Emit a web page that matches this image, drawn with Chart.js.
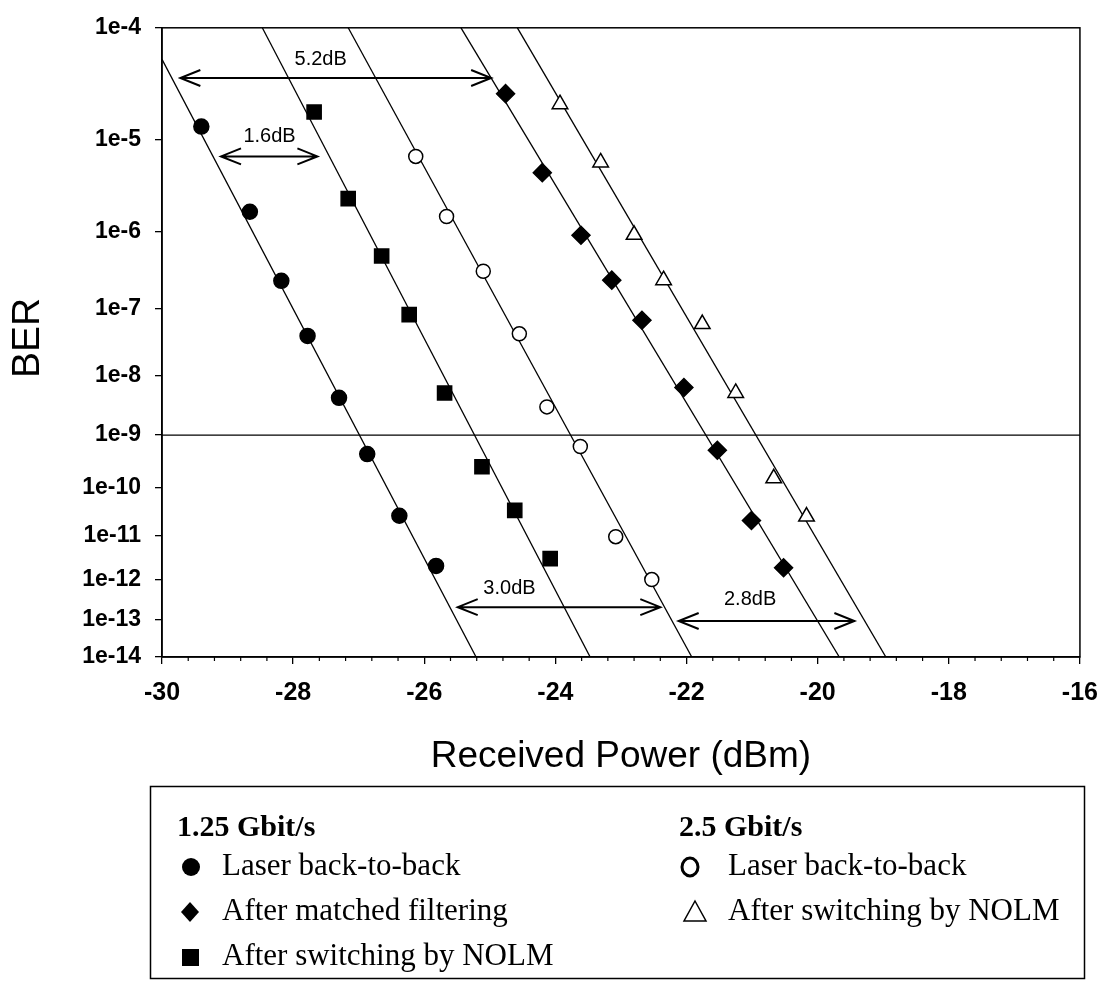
<!DOCTYPE html>
<html>
<head>
<meta charset="utf-8">
<script src="https://cdn.jsdelivr.net/npm/chart.js@4.4.1/dist/chart.umd.min.js"></script>
<style>
  html, body { margin: 0; padding: 0; background: #fff; }
  #wrap { width: 1112px; height: 981px; }
</style>
</head>
<body>
<div id="wrap"><canvas id="berChart" width="1112" height="981"></canvas></div>
<script>
// measured points: received power (dBm) and BER
const b2b125Power = [-29.40, -28.66, -28.18, -27.78, -27.30, -26.87, -26.38, -25.82];
const b2b125Ber = [1.35e-5, 1.7e-6, 2.4e-7, 4.1e-8, 4.4e-9, 4.5e-10, 2.7e-11, 2.1e-12];
const matched125Power = [-24.76, -24.20, -23.61, -23.14, -22.68, -22.04, -21.53, -21.01, -20.52];
const matched125Ber = [2.75e-5, 4.6e-6, 9.0e-7, 2.45e-7, 6.9e-8, 6.5e-9, 5.3e-10, 2.15e-11, 1.9e-12];
const nolm125Power = [-27.68, -27.16, -26.65, -26.23, -25.69, -25.12, -24.62, -24.08];
const nolm125Ber = [1.86e-5, 2.4e-6, 5.0e-7, 8.3e-8, 5.3e-9, 2.6e-10, 3.5e-11, 3.1e-12];
const b2b25Power = [-26.13, -25.66, -25.10, -24.55, -24.13, -23.62, -23.08, -22.53];
const b2b25Ber = [6.8e-6, 1.5e-6, 3.2e-7, 4.4e-8, 3.1e-9, 6.2e-10, 9.6e-12, 1.0e-12];
const nolm25Power = [-23.93, -23.31, -22.80, -22.35, -21.76, -21.25, -20.67, -20.17];
const nolm25Ber = [2.2e-5, 5.9e-6, 9.1e-7, 2.45e-7, 6.1e-8, 5.3e-9, 1.55e-10, 2.6e-11];

// fitted straight lines (start / end of each)
const fitStartPower = [-30.0, -28.47, -27.16, -25.44, -24.58];
const fitStartBer = [5.5e-5, 1e-4, 1e-4, 1e-4, 1e-4];
const fitEndPower = [-25.21, -23.47, -21.92, -19.67, -18.96];
const fitEndBer = [1e-14, 1e-14, 1e-14, 1e-14, 1e-14];
const thresholdBer = 1e-9;

// penalty arrows
const arrowFrom = [-29.72, -29.10, -25.49, -22.12];
const arrowTo = [-24.98, -27.63, -22.40, -19.44];
const arrowBer = [3.8e-5, 6.8e-6, 2.1e-13, 9.3e-14];
const arrowText = ['5.2dB', '1.6dB', '3.0dB', '2.8dB'];
const arrowTextPower = [-27.58, -28.36, -24.70, -21.03];
const arrowTextBer = [5.5e-5, 1.08e-5, 6.2e-13, 3.2e-13];

// axes
const powerTicks = [-30, -28, -26, -24, -22, -20, -18, -16];
const berTickExps = [4, 5, 6, 7, 8, 9, 10, 11, 12, 13, 14];

// legend
const legendHeads = ['1.25 Gbit/s', '2.5 Gbit/s'];
const legendLeft = ['Laser back-to-back', 'After matched filtering', 'After switching by NOLM'];
const legendRight = ['Laser back-to-back', 'After switching by NOLM'];

// BER axis: log10(-log10(BER))
const toY = ber => Math.log10(-Math.log10(ber));
const pts = (xs, ys) => xs.map((x, i) => ({ x: x, y: toY(ys[i]) }));

const SANS = 'Liberation Sans, Arial, sans-serif';
const SERIF = 'Liberation Serif, Times New Roman, serif';

function markerSet(label, xs, ys, style, radius, fill) {
    return {
        label: label,
        data: pts(xs, ys),
        pointStyle: style,
        pointRadius: radius,
        pointBackgroundColor: fill,
        pointBorderColor: '#000',
        pointBorderWidth: 1.5,
        showLine: false,
        order: 1
    };
}

const datasets = [
    markerSet('1.25 Gbit/s Laser back-to-back', b2b125Power, b2b125Ber, 'circle', 7.5, '#000'),
    markerSet('1.25 Gbit/s After matched filtering', matched125Power, matched125Ber, 'rectRot', 9, '#000'),
    markerSet('1.25 Gbit/s After switching by NOLM', nolm125Power, nolm125Ber, 'rect', 10, '#000'),
    markerSet('2.5 Gbit/s Laser back-to-back', b2b25Power, b2b25Ber, 'circle', 7, '#fff'),
    markerSet('2.5 Gbit/s After switching by NOLM', nolm25Power, nolm25Ber, 'triangle', 9, '#fff')
];

fitStartPower.forEach(function (p, i) {
    datasets.push({
        label: 'fit ' + i,
        data: [{ x: p, y: toY(fitStartBer[i]) }, { x: fitEndPower[i], y: toY(fitEndBer[i]) }],
        showLine: true,
        borderColor: '#000',
        borderWidth: 1.3,
        pointRadius: 0,
        order: 2
    });
});

datasets.push({
    label: 'threshold',
    data: [{ x: powerTicks[0], y: toY(thresholdBer) }, { x: powerTicks[powerTicks.length - 1], y: toY(thresholdBer) }],
    showLine: true,
    borderColor: '#000',
    borderWidth: 1.3,
    pointRadius: 0,
    order: 2
});

const extras = {
    id: 'extras',
    afterDraw: function (chart) {
        const ctx = chart.ctx;
        const xs = chart.scales.x;
        const ys = chart.scales.y;
        const a = chart.chartArea;
        ctx.save();

        // frame
        ctx.strokeStyle = '#000';
        ctx.lineWidth = 1.5;
        ctx.strokeRect(a.left, a.top, a.right - a.left, a.bottom - a.top);

        // minor ticks on x
        ctx.lineWidth = 1.2;
        for (let i = 0; i <= 35; i++) {
            if (i % 5 === 0) continue;
            const px = xs.getPixelForValue(-30 + i * 0.4);
            ctx.beginPath();
            ctx.moveTo(px, a.bottom);
            ctx.lineTo(px, a.bottom + 4);
            ctx.stroke();
        }

        // arrows
        ctx.lineWidth = 2;
        arrowFrom.forEach(function (f, i) {
            const x1 = xs.getPixelForValue(f);
            const x2 = xs.getPixelForValue(arrowTo[i]);
            const y = ys.getPixelForValue(toY(arrowBer[i]));
            ctx.beginPath();
            ctx.moveTo(x1, y);
            ctx.lineTo(x2, y);
            ctx.moveTo(x1 + 20, y - 8);
            ctx.lineTo(x1, y);
            ctx.lineTo(x1 + 20, y + 8);
            ctx.moveTo(x2 - 20, y - 8);
            ctx.lineTo(x2, y);
            ctx.lineTo(x2 - 20, y + 8);
            ctx.stroke();
        });
        ctx.fillStyle = '#000';
        ctx.font = '20px ' + SANS;
        ctx.textAlign = 'center';
        ctx.textBaseline = 'middle';
        arrowText.forEach(function (t, i) {
            ctx.fillText(t, xs.getPixelForValue(arrowTextPower[i]), ys.getPixelForValue(toY(arrowTextBer[i])));
        });

        // axis titles
        ctx.font = '37px ' + SANS;
        ctx.fillText('Received Power (dBm)', (a.left + a.right) / 2, 757);
        ctx.save();
        ctx.translate(28, 338);
        ctx.rotate(-Math.PI / 2);
        ctx.font = '39px ' + SANS;
        ctx.fillText('BER', 0, 0);
        ctx.restore();

        // legend box
        ctx.lineWidth = 1.5;
        ctx.strokeRect(150.5, 786.5, 934, 192);
        ctx.textAlign = 'left';
        ctx.font = 'bold 30px ' + SERIF;
        ctx.fillText(legendHeads[0], 177, 828);
        ctx.fillText(legendHeads[1], 679, 828);
        ctx.font = '31px ' + SERIF;
        const rowY = [867, 912, 957];
        legendLeft.forEach(function (t, i) { ctx.fillText(t, 222, rowY[i]); });
        legendRight.forEach(function (t, i) { ctx.fillText(t, 728, rowY[i]); });

        // legend markers
        ctx.fillStyle = '#000';
        ctx.beginPath();
        ctx.arc(191, rowY[0], 9, 0, Math.PI * 2);
        ctx.fill();
        ctx.beginPath();
        ctx.moveTo(190, rowY[1] - 10);
        ctx.lineTo(199, rowY[1]);
        ctx.lineTo(190, rowY[1] + 10);
        ctx.lineTo(181, rowY[1]);
        ctx.closePath();
        ctx.fill();
        ctx.fillRect(182, rowY[2] - 8, 17, 17);

        ctx.lineWidth = 3;
        ctx.beginPath();
        ctx.ellipse(690, rowY[0], 8, 9, 0, 0, Math.PI * 2);
        ctx.stroke();
        ctx.lineWidth = 1.5;
        ctx.beginPath();
        ctx.moveTo(695, rowY[1] - 11);
        ctx.lineTo(706, rowY[1] + 9);
        ctx.lineTo(684, rowY[1] + 9);
        ctx.closePath();
        ctx.stroke();

        ctx.restore();
    }
};

new Chart(document.getElementById('berChart').getContext('2d'), {
    type: 'scatter',
    data: { datasets: datasets },
    options: {
        responsive: false,
        animation: false,
        devicePixelRatio: 1,
        layout: { padding: { top: 21, right: 29, left: 0, bottom: 0 } },
        plugins: { legend: { display: false }, tooltip: { enabled: false } },
        scales: {
            x: {
                type: 'linear',
                min: powerTicks[0],
                max: powerTicks[powerTicks.length - 1],
                afterBuildTicks: function (scale) {
                    scale.ticks = powerTicks.map(v => ({ value: v }));
                },
                afterFit: function (scale) { scale.height = 324; },
                ticks: {
                    color: '#000',
                    font: { family: SANS, size: 25, weight: 'bold' },
                    padding: 14,
                    maxRotation: 0,
                    autoSkip: false,
                    callback: v => String(v)
                },
                grid: { drawOnChartArea: false, tickLength: 7, color: '#000', lineWidth: 1.3 },
                border: { color: '#000', width: 1.5 }
            },
            y: {
                type: 'linear',
                reverse: true,
                min: Math.log10(berTickExps[0]),
                max: Math.log10(berTickExps[berTickExps.length - 1]),
                afterBuildTicks: function (scale) {
                    scale.ticks = berTickExps.map(n => ({ value: Math.log10(n) }));
                },
                afterFit: function (scale) { scale.width = 162; },
                ticks: {
                    color: '#000',
                    font: { family: SANS, size: 23, weight: 'bold' },
                    padding: 14,
                    autoSkip: false,
                    callback: v => '1e-' + Math.round(Math.pow(10, v))
                },
                grid: { drawOnChartArea: false, tickLength: 7, color: '#000', lineWidth: 1.3 },
                border: { color: '#000', width: 1.5 }
            }
        }
    },
    plugins: [extras]
});
</script>
</body>
</html>
